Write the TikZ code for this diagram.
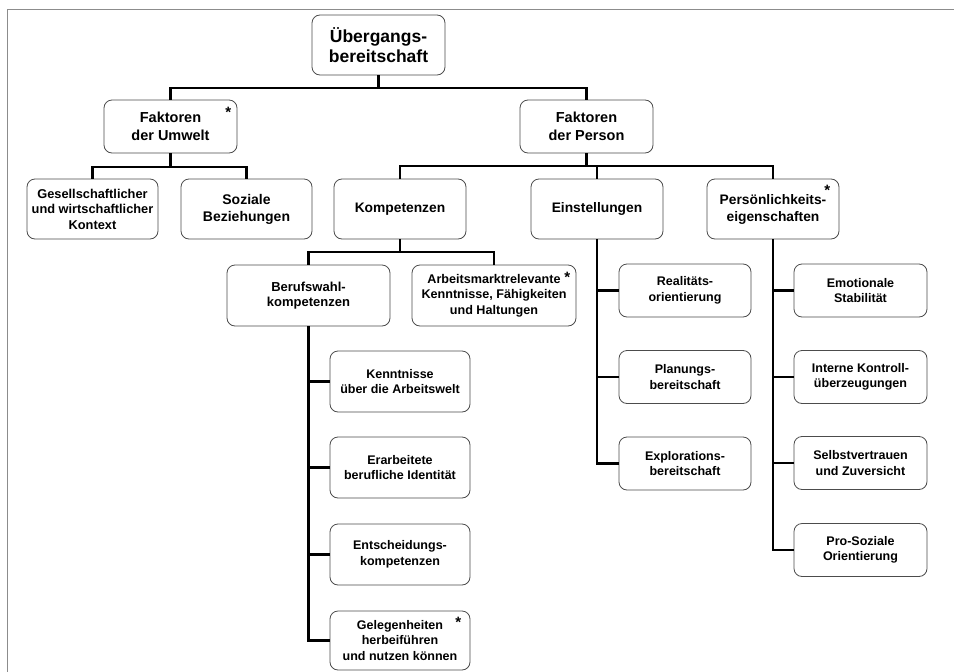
\documentclass[tikz,border=0pt]{standalone}
\usepackage{fontspec}
\setmainfont{Liberation Sans}
\begin{document}
\begin{tikzpicture}[x=1pt,y=1pt,
  box/.style={draw=black!70, line width=0.8pt, rounded corners=8pt, fill=white,
    inner sep=0pt, align=center, font=\bfseries\fontsize{12.5}{15.5}\selectfont},
  leaf/.style={box, minimum width=132, minimum height=53},
  conn/.style={line width=2.4pt, black},
  ast/.style={inner sep=0pt, anchor=base, font=\bfseries\fontsize{15}{15}\selectfont},
  frame/.style={draw=black!45, line width=1.3pt}]
\useasboundingbox (0,0) rectangle (954,-672);
\draw[frame] (7.5,-672) -- (7.5,-9.5) -- (954,-9.5);

% root
\node[box, minimum width=133, minimum height=60, font=\bfseries\fontsize{17.5}{20}\selectfont] (root) at (378.5,-45) {Übergangs-\\bereitschaft};
% level 1
\node[box, minimum width=133, minimum height=53, font=\bfseries\fontsize{14.5}{18.5}\selectfont] (umwelt) at (170.5,-126.5) {Faktoren\\der Umwelt};
\node[box, minimum width=133, minimum height=53, font=\bfseries\fontsize{14.5}{18.5}\selectfont] (person) at (586.5,-126.5) {Faktoren\\der Person};
% level 2
\node[box, minimum width=131, minimum height=60, font=\bfseries\fontsize{12.8}{15.5}\selectfont] (gesell) at (92.5,-209) {Gesellschaftlicher\\und wirtschaftlicher\\Kontext};
\node[box, minimum width=131, minimum height=60, font=\bfseries\fontsize{14}{17}\selectfont] (sozial) at (246.5,-209) {Soziale\\Beziehungen};
\node[box, minimum width=132, minimum height=60, font=\bfseries\fontsize{13.8}{17}\selectfont] (kompet) at (400,-209) {Kompetenzen};
\node[box, minimum width=132, minimum height=60, font=\bfseries\fontsize{13.8}{17}\selectfont] (einst) at (597,-209) {Einstellungen};
\node[box, minimum width=132, minimum height=60, font=\bfseries\fontsize{13.8}{17}\selectfont] (pers) at (773,-209) {Persönlichkeits-\\eigenschaften};
% level 3 (Kompetenzen)
\node[box, minimum width=163, minimum height=61, font=\bfseries\fontsize{13}{15.5}\selectfont] (beruf) at (308.5,-295.5) {Berufswahl-\\kompetenzen};
\node[box, minimum width=164, minimum height=61, font=\bfseries\fontsize{12.6}{15.5}\selectfont] (arbeit) at (494,-295.5) {Arbeitsmarktrelevante\\Kenntnisse, Fähigkeiten\\und Haltungen};
% Berufswahl children
\node[box, minimum width=140, minimum height=61] (kenntn) at (400,-381.5) {Kenntnisse\\über die Arbeitswelt};
\node[box, minimum width=140, minimum height=61] (erarb) at (400,-467.5) {Erarbeitete\\berufliche Identität};
\node[box, minimum width=140, minimum height=61] (entsch) at (400,-554.5) {Entscheidungs-\\kompetenzen};
\node[box, minimum width=140, minimum height=59] (geleg) at (400,-640.5) {Gelegenheiten\\herbeiführen\\und nutzen können};
% Einstellungen children
\node[leaf] (real) at (685,-290.5) {Realitäts-\\orientierung};
\node[leaf] (plan) at (685,-377) {Planungs-\\bereitschaft};
\node[leaf] (explo) at (685,-463.5) {Explorations-\\bereitschaft};
% Persoenlichkeit children
\node[leaf, minimum width=133] (emot) at (860.5,-290.5) {Emotionale\\Stabilität};
\node[leaf, minimum width=133] (intern) at (860.5,-377) {Interne Kontroll-\\überzeugungen};
\node[leaf, minimum width=133] (selbst) at (860.5,-463) {Selbstvertrauen\\und Zuversicht};
\node[leaf, minimum width=133] (prosoz) at (860.5,-550) {Pro-Soziale\\Orientierung};

% asterisks
\node[ast] (a1) at ([shift={(-9,-18)}]umwelt.north east) {*};
\node[ast] (a2) at ([shift={(-9,-18)}]arbeit.north east) {*};
\node[ast] (a3) at ([shift={(-12,-17)}]pers.north east) {*};
\node[ast] (a4) at ([shift={(-12,-17)}]geleg.north east) {*};

% connectors
\coordinate (b0) at (378.5,-88);
\draw[conn] (root.south) -- (b0);
\draw[conn] (b0) -| (umwelt.north);
\draw[conn] (b0) -| (person.north);

\coordinate (b1) at (170.5,-167);
\draw[conn] (umwelt.south) -- (b1);
\draw[conn] (b1) -| (gesell.north);
\draw[conn] (b1) -| (sozial.north);

\coordinate (b2) at (586.5,-166);
\draw[conn] (person.south) -- (b2);
\draw[conn] (b2) -| (kompet.north);
\draw[conn] (b2) -| (einst.north);
\draw[conn] (b2) -| (pers.north);

\coordinate (b3) at (400,-252);
\draw[conn] (kompet.south) -- (b3);
\draw[conn] (b3) -| (beruf.north);
\draw[conn] (b3) -| (arbeit.north);

\draw[conn] (beruf.south) |- (kenntn.west);
\draw[conn] (beruf.south) |- (erarb.west);
\draw[conn] (beruf.south) |- (entsch.west);
\draw[conn] (beruf.south) |- (geleg.west);

\draw[conn] (einst.south) |- (real.west);
\draw[conn] (einst.south) |- (plan.west);
\draw[conn] (einst.south) |- (explo.west);

\draw[conn] (pers.south) |- (emot.west);
\draw[conn] (pers.south) |- (intern.west);
\draw[conn] (pers.south) |- (selbst.west);
\draw[conn] (pers.south) |- (prosoz.west);
\end{tikzpicture}
\end{document}
